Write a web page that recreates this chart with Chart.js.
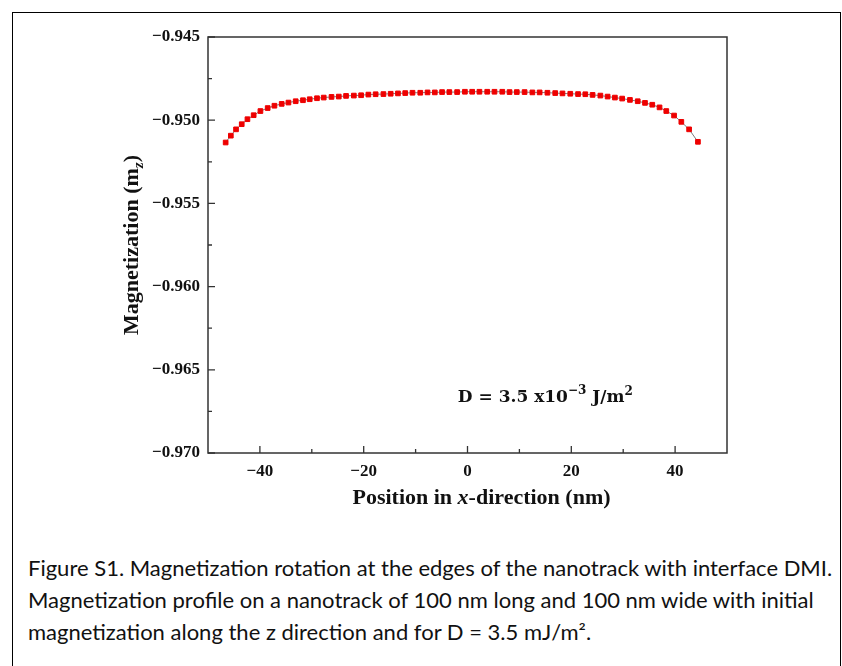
<!DOCTYPE html>
<html>
<head>
<meta charset="utf-8">
<script src="https://cdn.jsdelivr.net/npm/chart.js@4.4.1/dist/chart.umd.min.js"></script>
<style>
  html, body { margin: 0; padding: 0; background: #fff; }
  body { width: 842px; height: 666px; position: relative; overflow: hidden; }
  #frame { position: absolute; left: 12px; top: 12px; width: 829px; height: 720px;
           border: 1.5px solid #000; box-sizing: border-box; }
  #wrap { position: absolute; left: 0; top: 0; width: 842px; height: 540px; }
  .cap { position: absolute; left: 28px; font-family: Lato, "Open Sans", sans-serif;
         font-size: 21px; color: #111; white-space: nowrap; transform-origin: 0 50%; line-height: 1; }
</style>
</head>
<body>
<div id="frame"></div>
<div id="wrap"><canvas id="c"></canvas></div>
<div class="cap" id="cap1" style="top:557px">Figure S1. Magnetization rotation at the edges of the nanotrack with interface DMI.</div>
<div class="cap" id="cap2" style="top:589px">Magnetization profile on a nanotrack of 100 nm long and 100 nm wide with initial</div>
<div class="cap" id="cap3" style="top:621px">magnetization along the z direction and for D = 3.5 mJ/m².</div>
<script>
// Position along the track (nm) and the z component of magnetization
const xPos = [
  -46.6, -45.6, -44.6, -43.5, -42.4, -41.2, -39.9, -38.5, -37.2, -35.8,
  -34.5, -33.1, -31.7, -30.4, -29.0, -27.7, -26.2, -24.8, -23.4, -21.9,
  -20.5, -19.1, -17.7, -16.2, -14.8, -13.4, -12.0, -10.6, -9.1, -7.7,
  -6.3, -4.9, -3.5, -2.0, -0.5, 0.9, 2.3, 3.8, 5.2, 6.7,
  8.1, 9.5, 11.0, 12.5, 13.9, 15.4, 16.9, 18.3, 19.8, 21.3,
  22.7, 24.1, 25.6, 27.0, 28.4, 29.8, 31.3, 32.8, 34.2, 35.6,
  37.0, 38.3, 39.8, 41.2, 42.7, 44.4
];
const mz = [
  -0.95134, -0.95093, -0.95055, -0.95024, -0.94994, -0.94970, -0.94945, -0.94927, -0.94913, -0.94902,
  -0.94894, -0.94886, -0.94880, -0.94874, -0.94868, -0.94864, -0.94860, -0.94858, -0.94854, -0.94852,
  -0.94850, -0.94846, -0.94844, -0.94843, -0.94841, -0.94839, -0.94837, -0.94835, -0.94835, -0.94833,
  -0.94833, -0.94831, -0.94831, -0.94831, -0.94829, -0.94829, -0.94829, -0.94829, -0.94829, -0.94829,
  -0.94831, -0.94831, -0.94831, -0.94833, -0.94833, -0.94835, -0.94837, -0.94839, -0.94841, -0.94843,
  -0.94844, -0.94848, -0.94852, -0.94858, -0.94864, -0.94870, -0.94878, -0.94886, -0.94896, -0.94907,
  -0.94923, -0.94945, -0.94972, -0.95010, -0.95055, -0.95130
];

// Axis ticks
const xMajor = [-40, -20, 0, 20, 40];
const xMinor = [-30, -10, 10, 30];
const yMajor = [-0.970, -0.965, -0.960, -0.955, -0.950, -0.945];
const yMinor = [-0.9675, -0.9625, -0.9575, -0.9525, -0.9475];

const SERIF = '"Liberation Serif", "DejaVu Serif", serif';
const MATH = '"DejaVu Serif", "Liberation Serif", serif';
const INK = '#111';

function fmtNum(v, digits) {
  const s = Math.abs(v).toFixed(digits);
  return (v < -1e-9 ? '\u2212' : '') + s;
}

function drawRich(ctx, parts, x, y) {
  let total = 0;
  parts.forEach(p => { ctx.font = p.font; p.w = ctx.measureText(p.t).width; total += p.w; });
  let cx = x - total / 2;
  parts.forEach(p => {
    ctx.font = p.font;
    ctx.fillText(p.t, cx, y + (p.dy || 0));
    cx += p.w;
  });
}

// Plot frame, inward ticks, axis titles and the DMI label
const decor = {
  id: 'decor',
  beforeDatasetsDraw(chart) {
    const { ctx, chartArea: a, scales: { x, y } } = chart;
    ctx.save();
    ctx.strokeStyle = '#333';
    ctx.lineWidth = 1.5;
    ctx.strokeRect(a.left, a.top, a.right - a.left, a.bottom - a.top);
    ctx.lineWidth = 1.3;
    ctx.beginPath();
    xMajor.forEach(v => { const px = x.getPixelForValue(v); ctx.moveTo(px, a.bottom); ctx.lineTo(px, a.bottom - 7); });
    xMinor.forEach(v => { const px = x.getPixelForValue(v); ctx.moveTo(px, a.bottom); ctx.lineTo(px, a.bottom - 4); });
    yMajor.forEach(v => { const py = y.getPixelForValue(v); ctx.moveTo(a.left, py); ctx.lineTo(a.left + 7, py); });
    yMinor.forEach(v => { const py = y.getPixelForValue(v); ctx.moveTo(a.left, py); ctx.lineTo(a.left + 4, py); });
    ctx.stroke();
    ctx.restore();
  },
  afterDraw(chart) {
    const { ctx, chartArea: a, scales: { x, y } } = chart;
    ctx.save();
    ctx.fillStyle = INK;
    ctx.textAlign = 'left';
    ctx.textBaseline = 'alphabetic';

    // x-axis title, sitting a little right of the plot centre
    const cxT = (a.left + a.right) / 2 + 14;
    drawRich(ctx, [
      { t: 'Position in ', font: `bold 22px ${SERIF}` },
      { t: 'x', font: `italic bold 22px ${SERIF}` },
      { t: '-direction (nm)', font: `bold 22px ${SERIF}` }
    ], cxT, a.bottom + 51);

    // y-axis title
    ctx.save();
    ctx.translate(138, (a.top + a.bottom) / 2);
    ctx.rotate(-Math.PI / 2);
    drawRich(ctx, [
      { t: 'Magnetization (m', font: `bold 22px ${SERIF}` },
      { t: 'z', font: `italic bold 15px ${SERIF}`, dy: 5 },
      { t: ')', font: `bold 22px ${SERIF}` }
    ], 0, 0);
    ctx.restore();

    // DMI strength label
    drawRich(ctx, [
      { t: 'D = 3.5 x10', font: `bold 17px ${MATH}` },
      { t: '\u22123', font: `bold 12px ${MATH}`, dy: -8 },
      { t: ' J/m', font: `bold 17px ${MATH}` },
      { t: '2', font: `bold 12px ${MATH}`, dy: -7 }
    ], x.getPixelForValue(15), y.getPixelForValue(-0.9665) + 7);
    ctx.restore();
  }
};

new Chart(document.getElementById('c'), {
  type: 'scatter',
  data: {
    datasets: [{
      data: xPos.map((v, i) => ({ x: v, y: mz[i] })),
      showLine: true,
      borderColor: '#7a7a7a',
      borderWidth: 1,
      pointStyle: 'rect',
      pointRadius: 3.3,
      pointBackgroundColor: '#ee0000',
      pointBorderColor: '#ee0000',
      pointBorderWidth: 1,
      tension: 0
    }]
  },
  options: {
    responsive: true,
    maintainAspectRatio: false,
    animation: false,
    events: [],
    layout: { padding: { left: 0, top: 37, right: 115, bottom: 27 } },
    plugins: { legend: { display: false }, tooltip: { enabled: false } },
    scales: {
      x: {
        type: 'linear', min: -50, max: 50,
        grid: { display: false, drawTicks: false },
        border: { display: false },
        afterBuildTicks(s) { s.ticks = xMajor.map(v => ({ value: v })); },
        afterFit(s) { s.height = 60; },
        ticks: {
          padding: 8, color: INK, maxRotation: 0,
          font: { family: SERIF, size: 17, weight: 'bold' },
          callback: v => fmtNum(v, 0)
        }
      },
      y: {
        type: 'linear', min: -0.970, max: -0.945,
        grid: { display: false, drawTicks: false },
        border: { display: false },
        afterBuildTicks(s) { s.ticks = yMajor.map(v => ({ value: v })); },
        afterFit(s) { s.width = 208; },
        ticks: {
          padding: 8, color: INK,
          font: { family: SERIF, size: 17, weight: 'bold' },
          callback: v => fmtNum(v, 3)
        }
      }
    }
  },
  plugins: [decor]
});

// Fit the caption lines to the text block width
(function () {
  const c = document.createElement('canvas').getContext('2d');
  const el = document.getElementById('cap1');
  const cs = getComputedStyle(el);
  c.font = `${cs.fontSize} ${cs.fontFamily}`;
  const w = c.measureText(el.textContent).width;
  const k = 805 / w;
  ['cap1', 'cap2', 'cap3'].forEach(id => {
    document.getElementById(id).style.transform = `scaleX(${k})`;
  });
})();
</script>
</body>
</html>
